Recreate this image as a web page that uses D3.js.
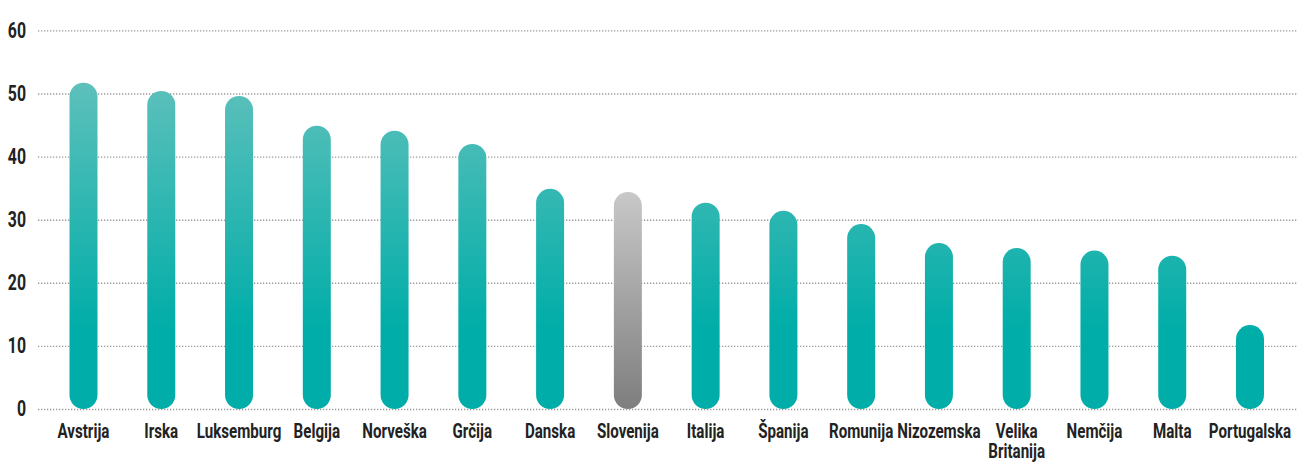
<!DOCTYPE html>
<html>
<head>
<meta charset="utf-8">
<script src="https://cdn.jsdelivr.net/npm/d3@7"></script>
<style>
  body { margin: 0; background: #fff; }
  svg { display: block; }
  .lbl { font-family: Roboto, "DejaVu Sans Condensed", sans-serif; font-weight: bold; fill: #222; }
</style>
</head>
<body>
<svg width="1298" height="464"></svg>
<script>
// države in vrednosti (odčitano s slike)
var countries = ["Avstrija", "Irska", "Luksemburg", "Belgija", "Norveška", "Grčija", "Danska", "Slovenija",
                 "Italija", "Španija", "Romunija", "Nizozemska", "Velika Britanija", "Nemčija", "Malta", "Portugalska"];
var values = [51.7, 50.4, 49.6, 44.9, 44.1, 42.0, 34.9, 34.4, 32.7, 31.4, 29.3, 26.3, 25.5, 25.1, 24.3, 13.3];
var highlight = "Slovenija";
var yTicks = [0, 10, 20, 30, 40, 50, 60];

var svg = d3.select("svg");
var W = 1298;
var sx = 0.72;      // vodoravno stiskanje pisave (ožja pisava kot v originalu)
var barW = 28;

var x = d3.scalePoint().domain(countries).range([83.5, 1250]);
var y = d3.scaleLinear().domain([0, 60]).range([409, 30.4]);

// gradienti
var defs = svg.append("defs");
var g1 = defs.append("linearGradient").attr("id", "teal")
    .attr("gradientUnits", "userSpaceOnUse")
    .attr("x1", 0).attr("x2", 0).attr("y1", 70).attr("y2", 330);
g1.append("stop").attr("offset", "0").attr("stop-color", "#62c1bc");
g1.append("stop").attr("offset", "1").attr("stop-color", "#00ada8");

var g2 = defs.append("linearGradient").attr("id", "grey")
    .attr("x1", 0).attr("x2", 0).attr("y1", 0).attr("y2", 1);
g2.append("stop").attr("offset", "0").attr("stop-color", "#c8c8c8");
g2.append("stop").attr("offset", "1").attr("stop-color", "#7e7e7e");

// mreža in oznake osi y
var axis = svg.append("g")
    .attr("transform", "translate(38,0)")
    .call(d3.axisLeft(y).tickValues(yTicks).tickSize(-(W - 38)).tickPadding(0));
axis.select(".domain").remove();
axis.selectAll(".tick line")
    .attr("stroke", "#9a9a9a")
    .attr("stroke-width", 1.4)
    .attr("stroke-dasharray", "1.3 1.7");
axis.selectAll(".tick text")
    .attr("class", "lbl")
    .attr("font-size", 22)
    .attr("x", -12 / sx)
    .attr("dy", "0.3em")
    .attr("transform", "scale(" + sx + ",1)");

// stolpci
svg.selectAll("rect.bar")
    .data(countries)
    .enter()
    .append("rect")
    .attr("class", "bar")
    .attr("x", function (d) { return x(d) - barW / 2; })
    .attr("width", barW)
    .attr("y", function (d, i) { return y(values[i]); })
    .attr("height", function (d, i) { return y(0) - y(values[i]); })
    .attr("rx", barW / 2)
    .attr("fill", function (d) { return d == highlight ? "url(#grey)" : "url(#teal)"; });

// imena držav (Velika Britanija v dveh vrsticah)
var lines = [];
countries.forEach(function (c) {
    var parts = c == "Velika Britanija" ? ["Velika", "Britanija"] : [c];
    parts.forEach(function (p, k) { lines.push({ c: c, text: p, row: k }); });
});

svg.selectAll("text.name")
    .data(lines)
    .enter()
    .append("text")
    .attr("class", "lbl name")
    .attr("font-size", 21)
    .attr("text-anchor", "middle")
    .attr("transform", function (d) { return "translate(" + x(d.c) + "," + (438 + d.row * 20) + ") scale(" + sx + ",1)"; })
    .text(function (d) { return d.text; });
</script>
</body>
</html>
